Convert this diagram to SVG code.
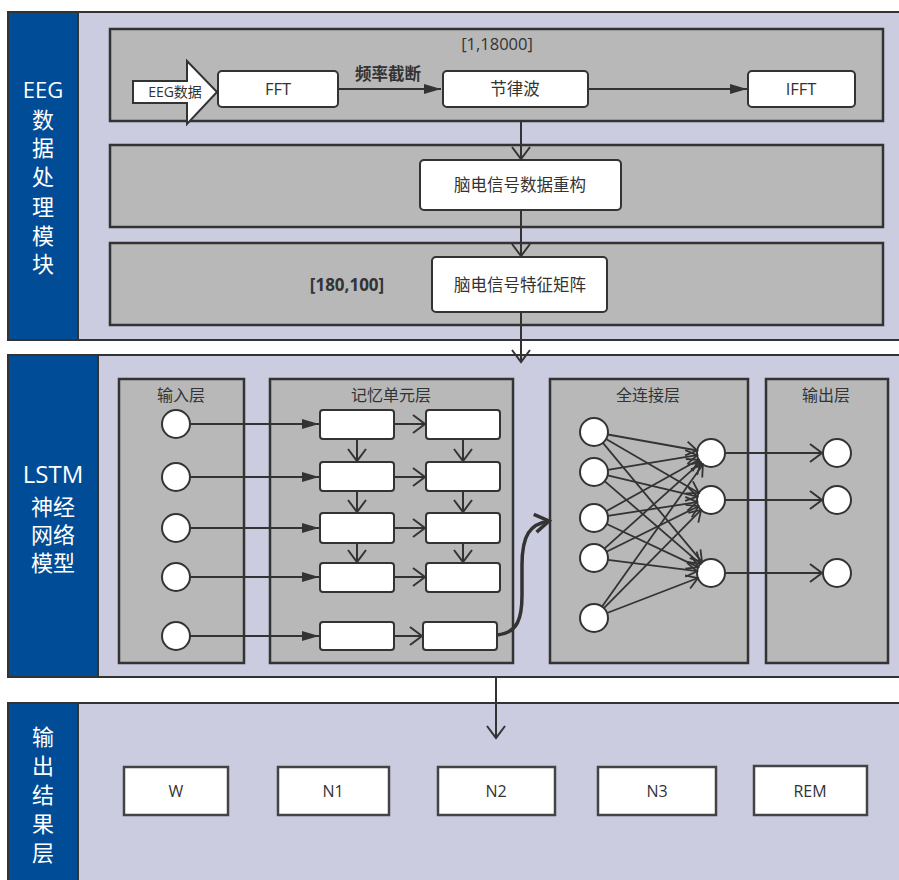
<svg xmlns="http://www.w3.org/2000/svg" width="899" height="880" viewBox="0 0 899 880">
<defs>
<style>
.panel{fill:#cbcce0;stroke:#333;stroke-width:2}
.band{fill:#004c97;stroke:#333;stroke-width:2}
.gbox{fill:#b8b8b8;stroke:#333;stroke-width:2.5}
.wbox{fill:#fff;stroke:#333;stroke-width:2}
.sbox{fill:#fff;stroke:#444;stroke-width:2.5}
.circ{fill:#fff;stroke:#333;stroke-width:2}
.ln{fill:none;stroke:#333;stroke-width:2}
.fc{fill:none;stroke:#333;stroke-width:1.8}
.t{font-family:"Open Sans","Noto Sans CJK SC",sans-serif;fill:#333;text-anchor:middle}
.bt{font-family:"Open Sans","Noto Sans CJK SC",sans-serif;fill:#fff;text-anchor:middle}
</style>
<marker id="fa" markerUnits="userSpaceOnUse" markerWidth="18" markerHeight="12" refX="17" refY="6" orient="auto"><path d="M0,1 L17,6 L0,11 z" fill="#333"/></marker>
<marker id="oa" markerUnits="userSpaceOnUse" markerWidth="16" markerHeight="22" refX="13" refY="11" orient="auto"><path d="M1,2 L13,11 L1,20" fill="none" stroke="#333" stroke-width="2"/></marker>
<marker id="os" markerUnits="userSpaceOnUse" markerWidth="14" markerHeight="18" refX="12" refY="9" orient="auto"><path d="M1,2 L12,9 L1,16" fill="none" stroke="#333" stroke-width="1.8"/></marker>
<marker id="ob" markerUnits="userSpaceOnUse" markerWidth="20" markerHeight="24" refX="16" refY="12" orient="auto"><path d="M2,3 L16,12 L2,21" fill="none" stroke="#333" stroke-width="3.5"/></marker>
</defs>

<!-- Panel 1 -->
<g id="panel-eeg">
<rect class="panel" x="8" y="12" width="900" height="328"/>
<rect class="band" x="8" y="12" width="70" height="328"/>
<text class="bt" font-size="22"><tspan x="43" y="98">EEG</tspan><tspan x="43" y="128">数</tspan><tspan x="43" y="156">据</tspan><tspan x="43" y="185">处</tspan><tspan x="43" y="215">理</tspan><tspan x="43" y="244">模</tspan><tspan x="43" y="272">块</tspan></text>
</g>
<g id="box-fft-stage">
<rect class="gbox" x="110" y="29" width="773" height="92"/>
<text class="t" font-size="16.5" x="497" y="50">[1,18000]</text>
</g>
<g id="box-reconstruct-stage"><rect class="gbox" x="110" y="145" width="773" height="82"/></g>
<g id="box-matrix-stage">
<rect class="gbox" x="110" y="243" width="773" height="82"/>
<text class="t" font-size="17" font-weight="bold" x="347" y="291">[180,100]</text>
</g>
<g id="eeg-input">
<polygon points="133,81 187,81 187,61 217,92 187,124 187,103 133,103" fill="#fff" stroke="#333" stroke-width="2"/>
<text class="t" font-size="14" x="175" y="97">EEG数据</text>
</g>
<g id="fft"><rect class="wbox" x="218" y="71" width="120" height="36" rx="4"/><text class="t" font-size="16.5" x="278" y="95">FFT</text></g>
<g id="rhythm"><rect class="wbox" x="443" y="71" width="145" height="36" rx="4"/><text class="t" font-size="16.5" x="515" y="95">节律波</text></g>
<g id="ifft"><rect class="wbox" x="748" y="71" width="107" height="36" rx="4"/><text class="t" font-size="16.5" x="801" y="95">IFFT</text></g>
<g id="reconstruct"><rect class="wbox" x="420" y="160" width="201" height="50" rx="4"/><text class="t" font-size="16.5" x="520" y="191">脑电信号数据重构</text></g>
<g id="feature-matrix"><rect class="wbox" x="432" y="257" width="175" height="55" rx="4"/><text class="t" font-size="16.5" x="520" y="291">脑电信号特征矩阵</text></g>

<!-- Panel 2 -->
<g id="panel-lstm">
<rect class="panel" x="8" y="355" width="900" height="322"/>
<rect class="band" x="8" y="355" width="90" height="322"/>
<text class="bt"><tspan font-size="24" x="53" y="483">LSTM</tspan><tspan font-size="22" x="53" y="515">神经</tspan><tspan font-size="22" x="53" y="543">网络</tspan><tspan font-size="22" x="53" y="571">模型</tspan></text>
</g>
<g id="input-layer">
<rect class="gbox" x="119" y="379" width="125" height="284"/>
<text class="t" font-size="16" x="181" y="401">输入层</text>
<circle class="circ" cx="176" cy="424" r="14"/>
<circle class="circ" cx="176" cy="477" r="14"/>
<circle class="circ" cx="176" cy="528" r="14"/>
<circle class="circ" cx="176" cy="577" r="14"/>
<circle class="circ" cx="176" cy="636" r="14"/>
</g>
<g id="memory-layer">
<rect class="gbox" x="270" y="379" width="243" height="284"/>
<text class="t" font-size="16" x="391" y="401">记忆单元层</text>
<rect class="wbox" x="320" y="410" width="74" height="29" rx="3"/>
<rect class="wbox" x="426" y="410" width="74" height="29" rx="3"/>
<rect class="wbox" x="320" y="462" width="74" height="29" rx="3"/>
<rect class="wbox" x="426" y="462" width="74" height="29" rx="3"/>
<rect class="wbox" x="320" y="513" width="74" height="30" rx="3"/>
<rect class="wbox" x="426" y="513" width="74" height="30" rx="3"/>
<rect class="wbox" x="320" y="563" width="74" height="29" rx="3"/>
<rect class="wbox" x="426" y="563" width="74" height="29" rx="3"/>
<rect class="wbox" x="320" y="622" width="74" height="28" rx="3"/>
<rect class="wbox" x="423" y="622" width="74" height="28" rx="3"/>
</g>
<g id="fc-layer">
<rect class="gbox" x="550" y="379" width="198" height="284"/>
<text class="t" font-size="16" x="648" y="401">全连接层</text>
<circle class="circ" cx="594" cy="432" r="14"/>
<circle class="circ" cx="594" cy="472" r="14"/>
<circle class="circ" cx="594" cy="518" r="14"/>
<circle class="circ" cx="594" cy="558" r="14"/>
<circle class="circ" cx="594" cy="618" r="14"/>
<circle class="circ" cx="711" cy="453" r="14"/>
<circle class="circ" cx="711" cy="500" r="14"/>
<circle class="circ" cx="711" cy="573" r="14"/>
</g>
<g id="output-layer">
<rect class="gbox" x="766" y="379" width="122" height="284"/>
<text class="t" font-size="16" x="826" y="401">输出层</text>
<circle class="circ" cx="837" cy="453" r="14"/>
<circle class="circ" cx="837" cy="500" r="14"/>
<circle class="circ" cx="837" cy="573" r="14"/>
</g>

<!-- Panel 3 -->
<g id="panel-result">
<rect class="panel" x="8" y="703" width="900" height="190"/>
<rect class="band" x="8" y="703" width="70" height="190"/>
<text class="bt" font-size="22"><tspan x="43" y="745">输</tspan><tspan x="43" y="774">出</tspan><tspan x="43" y="803">结</tspan><tspan x="43" y="832">果</tspan><tspan x="43" y="861">层</tspan></text>
</g>
<g id="res-w"><rect class="sbox" x="124" y="767" width="104" height="48"/><text class="t" font-size="16" x="176" y="797">W</text></g>
<g id="res-n1"><rect class="sbox" x="278" y="767" width="111" height="48"/><text class="t" font-size="16" x="333" y="797">N1</text></g>
<g id="res-n2"><rect class="sbox" x="438" y="767" width="117" height="48"/><text class="t" font-size="16" x="496" y="797">N2</text></g>
<g id="res-n3"><rect class="sbox" x="598" y="767" width="118" height="48"/><text class="t" font-size="16" x="657" y="797">N3</text></g>
<g id="res-rem"><rect class="sbox" x="754" y="766" width="113" height="49"/><text class="t" font-size="16" x="810" y="797">REM</text></g>

<!-- Connectors -->
<g id="connectors">
<line class="ln" x1="338" y1="89" x2="441" y2="89" marker-end="url(#fa)"/>
<text class="t" font-size="16.5" font-weight="bold" x="388" y="80">频率截断</text>
<line class="ln" x1="588" y1="89" x2="747" y2="89" marker-end="url(#fa)"/>
<line class="ln" x1="521" y1="121" x2="521" y2="159" marker-end="url(#oa)"/>
<line class="ln" x1="521" y1="210" x2="521" y2="256" marker-end="url(#oa)"/>
<line class="ln" x1="521" y1="312" x2="521" y2="362" marker-end="url(#oa)"/>

<line class="ln" x1="190" y1="424" x2="319" y2="424" marker-end="url(#fa)"/>
<line class="ln" x1="190" y1="477" x2="319" y2="477" marker-end="url(#fa)"/>
<line class="ln" x1="190" y1="528" x2="319" y2="528" marker-end="url(#fa)"/>
<line class="ln" x1="190" y1="577" x2="319" y2="577" marker-end="url(#fa)"/>
<line class="ln" x1="190" y1="636" x2="319" y2="636" marker-end="url(#fa)"/>

<line class="ln" x1="394" y1="424" x2="425" y2="424" marker-end="url(#oa)"/>
<line class="ln" x1="394" y1="477" x2="425" y2="477" marker-end="url(#oa)"/>
<line class="ln" x1="394" y1="528" x2="425" y2="528" marker-end="url(#oa)"/>
<line class="ln" x1="394" y1="577" x2="425" y2="577" marker-end="url(#oa)"/>
<line class="ln" x1="394" y1="636" x2="422" y2="636" marker-end="url(#oa)"/>

<line class="ln" x1="357" y1="439" x2="357" y2="461" marker-end="url(#oa)"/>
<line class="ln" x1="357" y1="491" x2="357" y2="512" marker-end="url(#oa)"/>
<line class="ln" x1="357" y1="543" x2="357" y2="562" marker-end="url(#oa)"/>
<line class="ln" x1="463" y1="439" x2="463" y2="461" marker-end="url(#oa)"/>
<line class="ln" x1="463" y1="491" x2="463" y2="512" marker-end="url(#oa)"/>
<line class="ln" x1="463" y1="543" x2="463" y2="562" marker-end="url(#oa)"/>

<path d="M497,635 C518,633 522,618 522,595 L522,565 C522,535 530,524 549,521" fill="none" stroke="#333" stroke-width="3.5" marker-end="url(#ob)"/>

<line class="fc" x1="607.8" y1="434.5" x2="697.2" y2="450.5" marker-end="url(#os)"/>
<line class="fc" x1="606.1" y1="439.0" x2="698.9" y2="493.0" marker-end="url(#os)"/>
<line class="fc" x1="602.9" y1="442.8" x2="702.1" y2="562.2" marker-end="url(#os)"/>
<line class="fc" x1="607.8" y1="469.8" x2="697.2" y2="455.2" marker-end="url(#os)"/>
<line class="fc" x1="607.6" y1="475.3" x2="697.4" y2="496.7" marker-end="url(#os)"/>
<line class="fc" x1="604.6" y1="481.1" x2="700.4" y2="563.9" marker-end="url(#os)"/>
<line class="fc" x1="606.2" y1="511.2" x2="698.8" y2="459.8" marker-end="url(#os)"/>
<line class="fc" x1="607.8" y1="515.9" x2="697.2" y2="502.1" marker-end="url(#os)"/>
<line class="fc" x1="606.7" y1="524.0" x2="698.3" y2="567.1" marker-end="url(#os)"/>
<line class="fc" x1="604.4" y1="548.6" x2="700.6" y2="462.4" marker-end="url(#os)"/>
<line class="fc" x1="606.5" y1="551.8" x2="698.5" y2="506.2" marker-end="url(#os)"/>
<line class="fc" x1="607.9" y1="559.8" x2="697.1" y2="571.2" marker-end="url(#os)"/>
<line class="fc" x1="602.1" y1="606.6" x2="702.9" y2="464.4" marker-end="url(#os)"/>
<line class="fc" x1="603.9" y1="608.1" x2="701.1" y2="509.9" marker-end="url(#os)"/>
<line class="fc" x1="607.1" y1="613.0" x2="697.9" y2="578.0" marker-end="url(#os)"/>

<line class="ln" x1="725" y1="453" x2="822" y2="453" marker-end="url(#oa)"/>
<line class="ln" x1="725" y1="500" x2="822" y2="500" marker-end="url(#oa)"/>
<line class="ln" x1="725" y1="573" x2="822" y2="573" marker-end="url(#oa)"/>

<line class="ln" x1="496" y1="677" x2="496" y2="738" marker-end="url(#oa)"/>
</g>
</svg>
